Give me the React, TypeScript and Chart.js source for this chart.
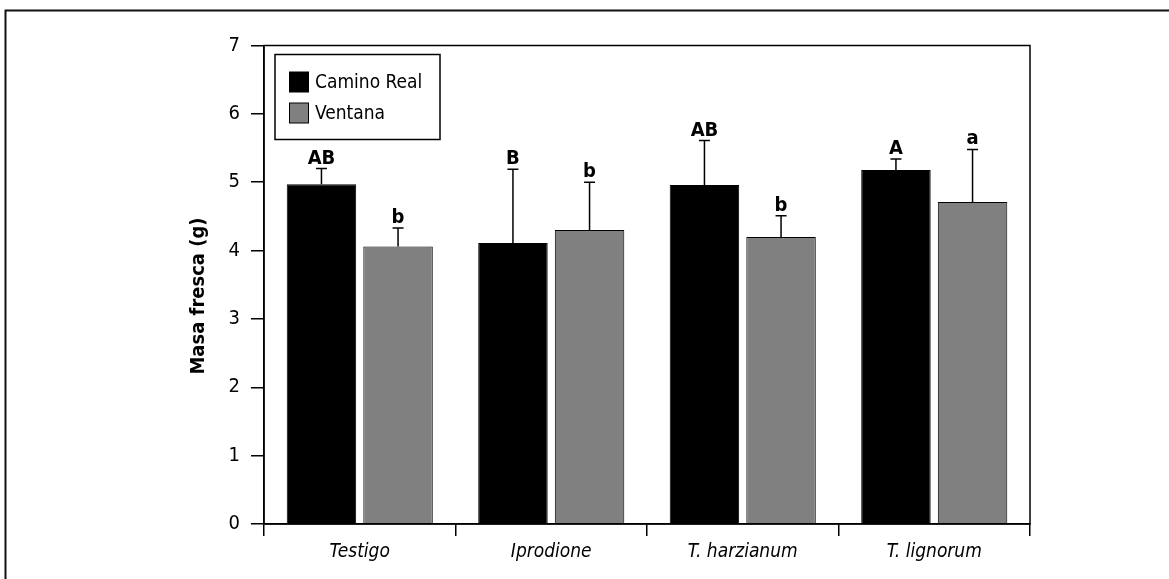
import React, { useEffect, useRef } from "react";
import { Chart, registerables } from "chart.js";

Chart.register(...registerables);

const categories = ["Testigo", "Iprodione", "T. harzianum", "T. lignorum"];
const seriesNames = ["Camino Real", "Ventana"];
const caminoReal = [4.97, 4.11, 4.96, 5.18];
const caminoRealErr = [0.23, 1.08, 0.65, 0.16];
const caminoRealLetters = ["AB", "B", "AB", "A"];
const ventana = [4.06, 4.3, 4.2, 4.71];
const ventanaErr = [0.27, 0.7, 0.31, 0.77];
const ventanaLetters = ["b", "b", "b", "a"];
const yMin = 0;
const yMax = 7;
const yStep = 1;
const yTitle = "Masa fresca (g)";

const FAM = "'Liberation Sans Narrow', 'DejaVu Sans Condensed', 'Liberation Sans', sans-serif";
const colors = ["#000000", "#808080"];

export default function App() {
  const ref = useRef<HTMLCanvasElement | null>(null);

  useEffect(() => {
    const canvas = ref.current;
    if (!canvas) return;
    const errs = [caminoRealErr, ventanaErr];
    const letters = [caminoRealLetters, ventanaLetters];

    const overlay = {
      id: "overlay",
      afterDatasetsDraw(chart: any) {
        const ctx = chart.ctx;
        const y = chart.scales.y;
        ctx.save();
        chart.data.datasets.forEach((ds: any, di: number) => {
          const meta = chart.getDatasetMeta(di);
          meta.data.forEach((bar: any, i: number) => {
            const v = ds.data[i];
            const top = y.getPixelForValue(v + errs[di][i]);
            const base = y.getPixelForValue(v);
            ctx.strokeStyle = "#000";
            ctx.lineWidth = 1.5;
            ctx.beginPath();
            ctx.moveTo(bar.x, base);
            ctx.lineTo(bar.x, top);
            ctx.moveTo(bar.x - 5.5, top);
            ctx.lineTo(bar.x + 5.5, top);
            ctx.stroke();
            ctx.fillStyle = "#000";
            ctx.font = `bold 20px ${FAM}`;
            ctx.textAlign = "center";
            ctx.textBaseline = "alphabetic";
            ctx.fillText(letters[di][i], bar.x, top - 5);
          });
        });
        ctx.restore();
      },
      afterDraw(chart: any) {
        const ctx = chart.ctx;
        const a = chart.chartArea;
        ctx.save();
        // plot box
        ctx.strokeStyle = "#000";
        ctx.lineWidth = 1.5;
        ctx.strokeRect(a.left, a.top, a.right - a.left, a.bottom - a.top);
        // outer frame
        ctx.strokeStyle = "#111";
        ctx.lineWidth = 2;
        ctx.beginPath();
        ctx.moveTo(5.5, 600);
        ctx.lineTo(5.5, 10.5);
        ctx.lineTo(1200, 10.5);
        ctx.stroke();
        // legend
        ctx.strokeStyle = "#000";
        ctx.lineWidth = 1.5;
        ctx.strokeRect(275, 54.5, 165, 85);
        const rows = [82, 113];
        chart.data.datasets.forEach((ds: any, di: number) => {
          const cy = rows[di];
          ctx.fillStyle = ds.backgroundColor;
          ctx.fillRect(289.5, cy - 10, 19, 20);
          ctx.lineWidth = 1;
          ctx.strokeStyle = "#000";
          ctx.strokeRect(289.5, cy - 10, 19, 20);
          ctx.fillStyle = "#000";
          ctx.font = `19px ${FAM}`;
          ctx.textAlign = "left";
          ctx.textBaseline = "middle";
          ctx.fillText(ds.label, 315, cy + 1);
        });
        // y title
        ctx.translate(199, 296);
        ctx.rotate(-Math.PI / 2);
        ctx.font = `bold 20px ${FAM}`;
        ctx.textAlign = "center";
        ctx.textBaseline = "middle";
        ctx.fillStyle = "#000";
        ctx.fillText(yTitle, 0, 0);
        ctx.restore();
      },
    };

    const chart = new Chart(canvas, {
      type: "bar",
      data: {
        labels: categories,
        datasets: [
          {
            label: seriesNames[0],
            data: caminoReal,
            backgroundColor: colors[0],
            borderColor: "#000",
            borderWidth: 1,
            categoryPercentage: 0.8,
            barPercentage: 0.907,
          },
          {
            label: seriesNames[1],
            data: ventana,
            backgroundColor: colors[1],
            borderColor: "#000",
            borderWidth: 1,
            categoryPercentage: 0.8,
            barPercentage: 0.907,
          },
        ],
      },
      options: {
        responsive: false,
        animation: false,
        layout: { padding: { left: 0, right: 139, top: 45.5, bottom: 0 } },
        plugins: { legend: { display: false }, tooltip: { enabled: false }, title: { display: false } },
        scales: {
          x: {
            type: "category",
            offset: true,
            grid: { offset: true, drawOnChartArea: false, drawTicks: true, tickLength: 12, color: "#000", lineWidth: 1.5 },
            border: { display: true, color: "#000", width: 1.5 },
            ticks: { color: "#000", padding: 5, font: { family: FAM, size: 19, style: "italic" } },
            afterFit: (s: any) => { s.height = 55; },
          },
          y: {
            min: yMin,
            max: yMax,
            grid: { drawOnChartArea: false, drawTicks: true, tickLength: 13, color: "#000", lineWidth: 1.5 },
            border: { display: true, color: "#000", width: 1.5 },
            ticks: { stepSize: yStep, color: "#000", padding: 11, font: { family: FAM, size: 20 } },
            afterFit: (s: any) => { s.width = 264; },
          },
        },
      },
      plugins: [overlay],
    } as any);
    return () => chart.destroy();
  }, []);

  return (
    <div style={{ position: "absolute", left: 0, top: 0, width: 1169, height: 579, background: "#fff" }}>
      <canvas ref={ref} width={1169} height={579} style={{ display: "block" }} />
    </div>
  );
}
